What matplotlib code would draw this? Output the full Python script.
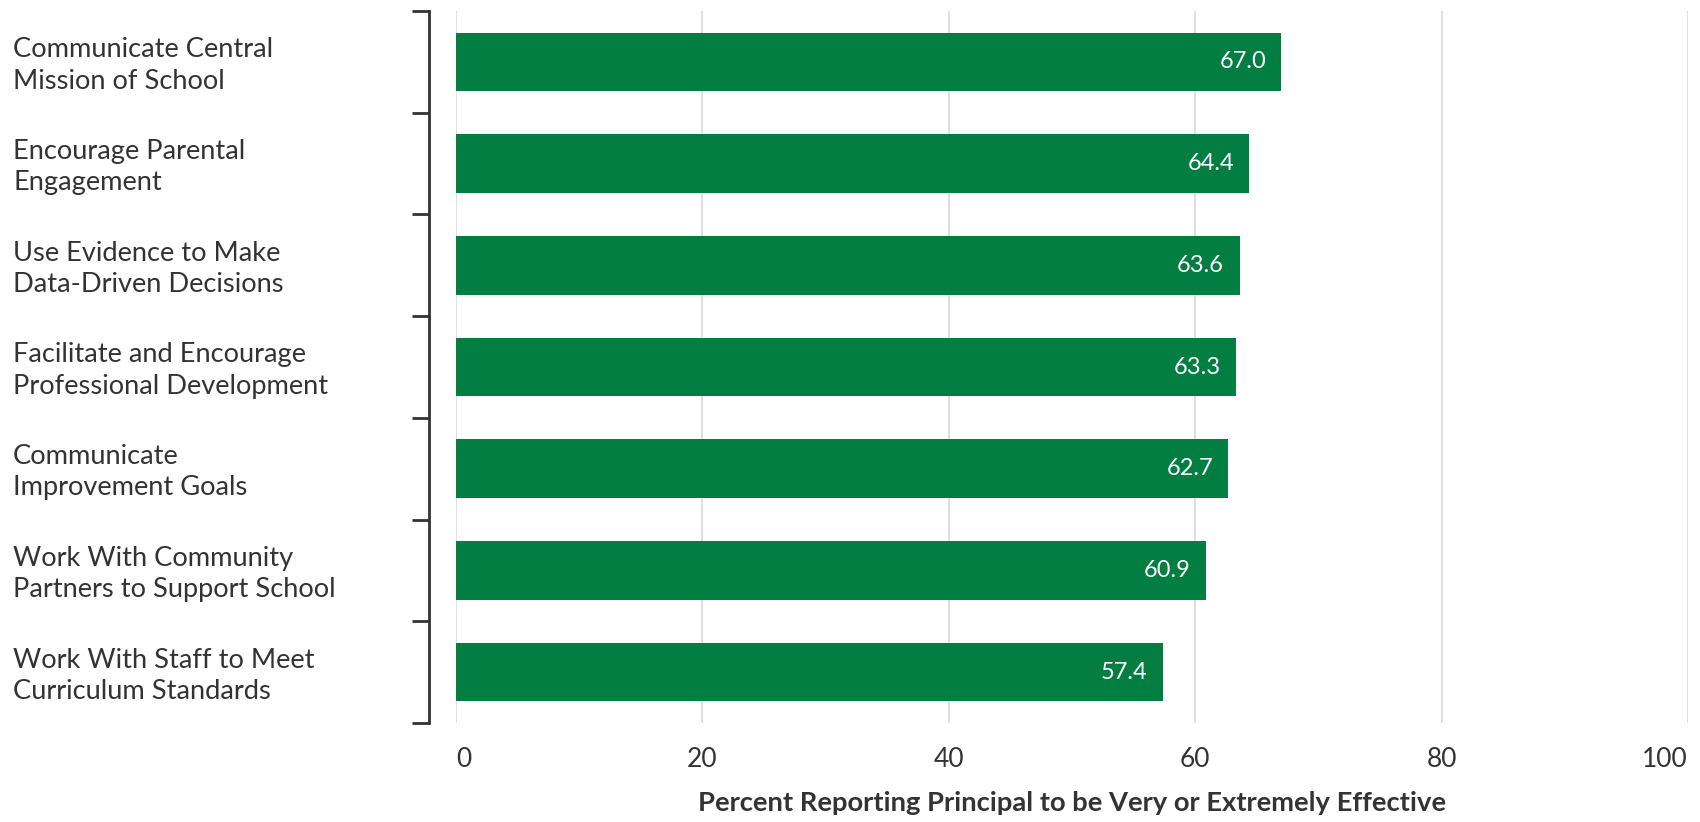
import matplotlib
matplotlib.use("Agg")
import matplotlib.pyplot as plt
import matplotlib.transforms as mtransforms
import numpy as np

categories = [
    "Communicate Central\nMission of School",
    "Encourage Parental\nEngagement",
    "Use Evidence to Make\nData-Driven Decisions",
    "Facilitate and Encourage\nProfessional Development",
    "Communicate\nImprovement Goals",
    "Work With Community\nPartners to Support School",
    "Work With Staff to Meet\nCurriculum Standards",
]
values = [67.0, 64.4, 63.6, 63.3, 62.7, 60.9, 57.4]
x_ticks = [0, 20, 40, 60, 80, 100]
x_label = "Percent Reporting Principal to be Very or Extremely Effective"

BAR_COLOR = "#037e43"
TEXT_COLOR = "#333333"
GRID_COLOR = "#dcdcdc"

plt.rcParams["font.family"] = ["Lato", "DejaVu Sans"]

fig = plt.figure(figsize=(17, 8.22), dpi=100)
ax = fig.add_axes([456 / 1700, 1 - 723 / 822, (1688 - 456) / 1700, (723 - 11) / 822])

y = np.arange(len(categories))
ax.barh(y, values, height=0.575, color=BAR_COLOR, zorder=3)

for yi, v in zip(y, values):
    ax.text(v - 1.25, yi, f"{v:.1f}", ha="right", va="center",
            color="white", fontsize=17, zorder=4)

ax.set_xlim(0, 100)
ax.set_ylim(len(categories) - 0.5, -0.5)

# vertical grid
ax.set_xticks(x_ticks)
ax.xaxis.grid(True, color=GRID_COLOR, linewidth=1.3, zorder=0)
ax.tick_params(axis="x", length=0, pad=17, labelsize=19, labelcolor=TEXT_COLOR)
xlabels = ax.get_xticklabels()
xlabels[0].set_ha("left")
xlabels[-1].set_ha("right")

ax.set_xlabel(x_label, fontsize=19.7, fontweight="bold", color=TEXT_COLOR, labelpad=14)

# category ticks sit on the boundaries between bars
ax.set_yticks(np.arange(-0.5, len(categories), 1.0))
ax.set_yticklabels([])
ax.tick_params(axis="y", which="major", length=12.6, width=2, color="#333333")

# category names, left-aligned near the figure edge, nudged to the bar centre
label_tf = mtransforms.blended_transform_factory(fig.transFigure, ax.transData)
for yi, name in zip(y, categories):
    ax.text(13 / 1700, yi + 0.035, name, transform=label_tf, ha="left", va="center",
            fontsize=19.6, color=TEXT_COLOR, linespacing=1.32)

for side in ["top", "right", "bottom"]:
    ax.spines[side].set_visible(False)
ax.spines["left"].set_position(("outward", 19.4))
ax.spines["left"].set_linewidth(2)
ax.spines["left"].set_color("#333333")

fig.savefig("out.png", dpi=100)
